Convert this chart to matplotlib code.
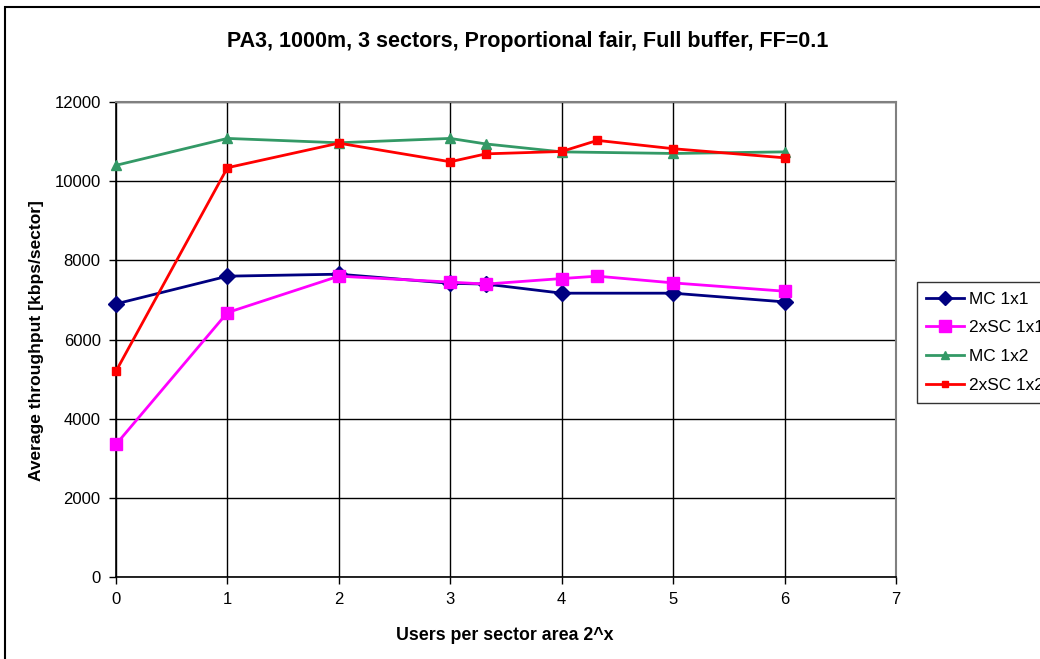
import numpy as np
import matplotlib.pyplot as plt
from matplotlib.patches import Rectangle

plt.rcParams['font.family'] = ['Liberation Sans', 'DejaVu Sans']

# x = log2(users per sector)
x_mc1 = [0, 1, 2, 3, 3.32, 4, 5, 6]
mc_1x1 = [6900, 7600, 7650, 7420, 7400, 7170, 7170, 6950]

x_sc1 = [0, 1, 2, 3, 3.32, 4, 4.32, 5, 6]
sc_1x1 = [3350, 6680, 7600, 7450, 7400, 7540, 7600, 7430, 7220]

x_mc2 = [0, 1, 2, 3, 3.32, 4, 5, 6]
mc_1x2 = [10400, 11080, 10970, 11080, 10940, 10740, 10700, 10740]

x_sc2 = [0, 1, 2, 3, 3.32, 4, 4.32, 5, 6]
sc_1x2 = [5200, 10340, 10960, 10490, 10690, 10750, 11030, 10820, 10590]

fig = plt.figure(figsize=(10.4, 6.59), dpi=100)
ax = fig.add_axes([116/1040, 1 - 577/659, 780/1040, 475/659])

# chart frame
fig.patches.append(Rectangle((5/1040, -0.1), 1.2, 1 - 7/659 + 0.1,
                             transform=fig.transFigure, fill=False,
                             edgecolor='black', linewidth=1.5))

ax.plot(x_mc1, mc_1x1, color='#000080', marker='D', markersize=8, lw=2,
        label='MC 1x1', zorder=3, clip_on=False)
ax.plot(x_sc1, sc_1x1, color='#FF00FF', marker='s', markersize=9, lw=2,
        label='2xSC 1x1', zorder=3, clip_on=False)
ax.plot(x_mc2, mc_1x2, color='#339966', marker='^', markersize=7, lw=2,
        label='MC 1x2', zorder=3, clip_on=False)
ax.plot(x_sc2, sc_1x2, color='#FF0000', marker='s', markersize=6, lw=2,
        label='2xSC 1x2', zorder=3, clip_on=False)

ax.set_xlim(0, 7)
ax.set_ylim(0, 12000)
ax.set_xticks(range(0, 8))
ax.set_yticks(range(0, 12001, 2000))
ax.grid(True, color='black', linewidth=1)
ax.set_axisbelow(True)
ax.tick_params(direction='out', length=5, width=1, labelsize=12, pad=6)

for s in ['top', 'right']:
    ax.spines[s].set_color('#808080')
    ax.spines[s].set_linewidth(1.5)
for s in ['left', 'bottom']:
    ax.spines[s].set_linewidth(1.2)

fig.text(528/1040, 1 - 42/659, 'PA3, 1000m, 3 sectors, Proportional fair, Full buffer, FF=0.1',
         ha='center', va='center', fontsize=15.5, fontweight='bold')
fig.text(505/1040, 1 - 635/659, 'Users per sector area 2^x',
         ha='center', va='center', fontsize=12.8, fontweight='bold')
fig.text(37/1040, 1 - 341/659, 'Average throughput [kbps/sector]',
         ha='center', va='center', rotation=90, fontsize=12.5, fontweight='bold')

leg = ax.legend(loc='upper left', bbox_to_anchor=(917/1040, 1 - 282/659),
                bbox_transform=fig.transFigure, fontsize=12.4, frameon=True,
                fancybox=False, edgecolor='black', handlelength=2.2,
                borderaxespad=0, labelspacing=0.8, handletextpad=0.25,
                borderpad=0.55)
leg.get_frame().set_linewidth(1)
for h, ms in zip(leg.legend_handles, [7, 8, 6, 5]):
    h.set_markersize(ms)

fig.savefig('out.png', dpi=100)
